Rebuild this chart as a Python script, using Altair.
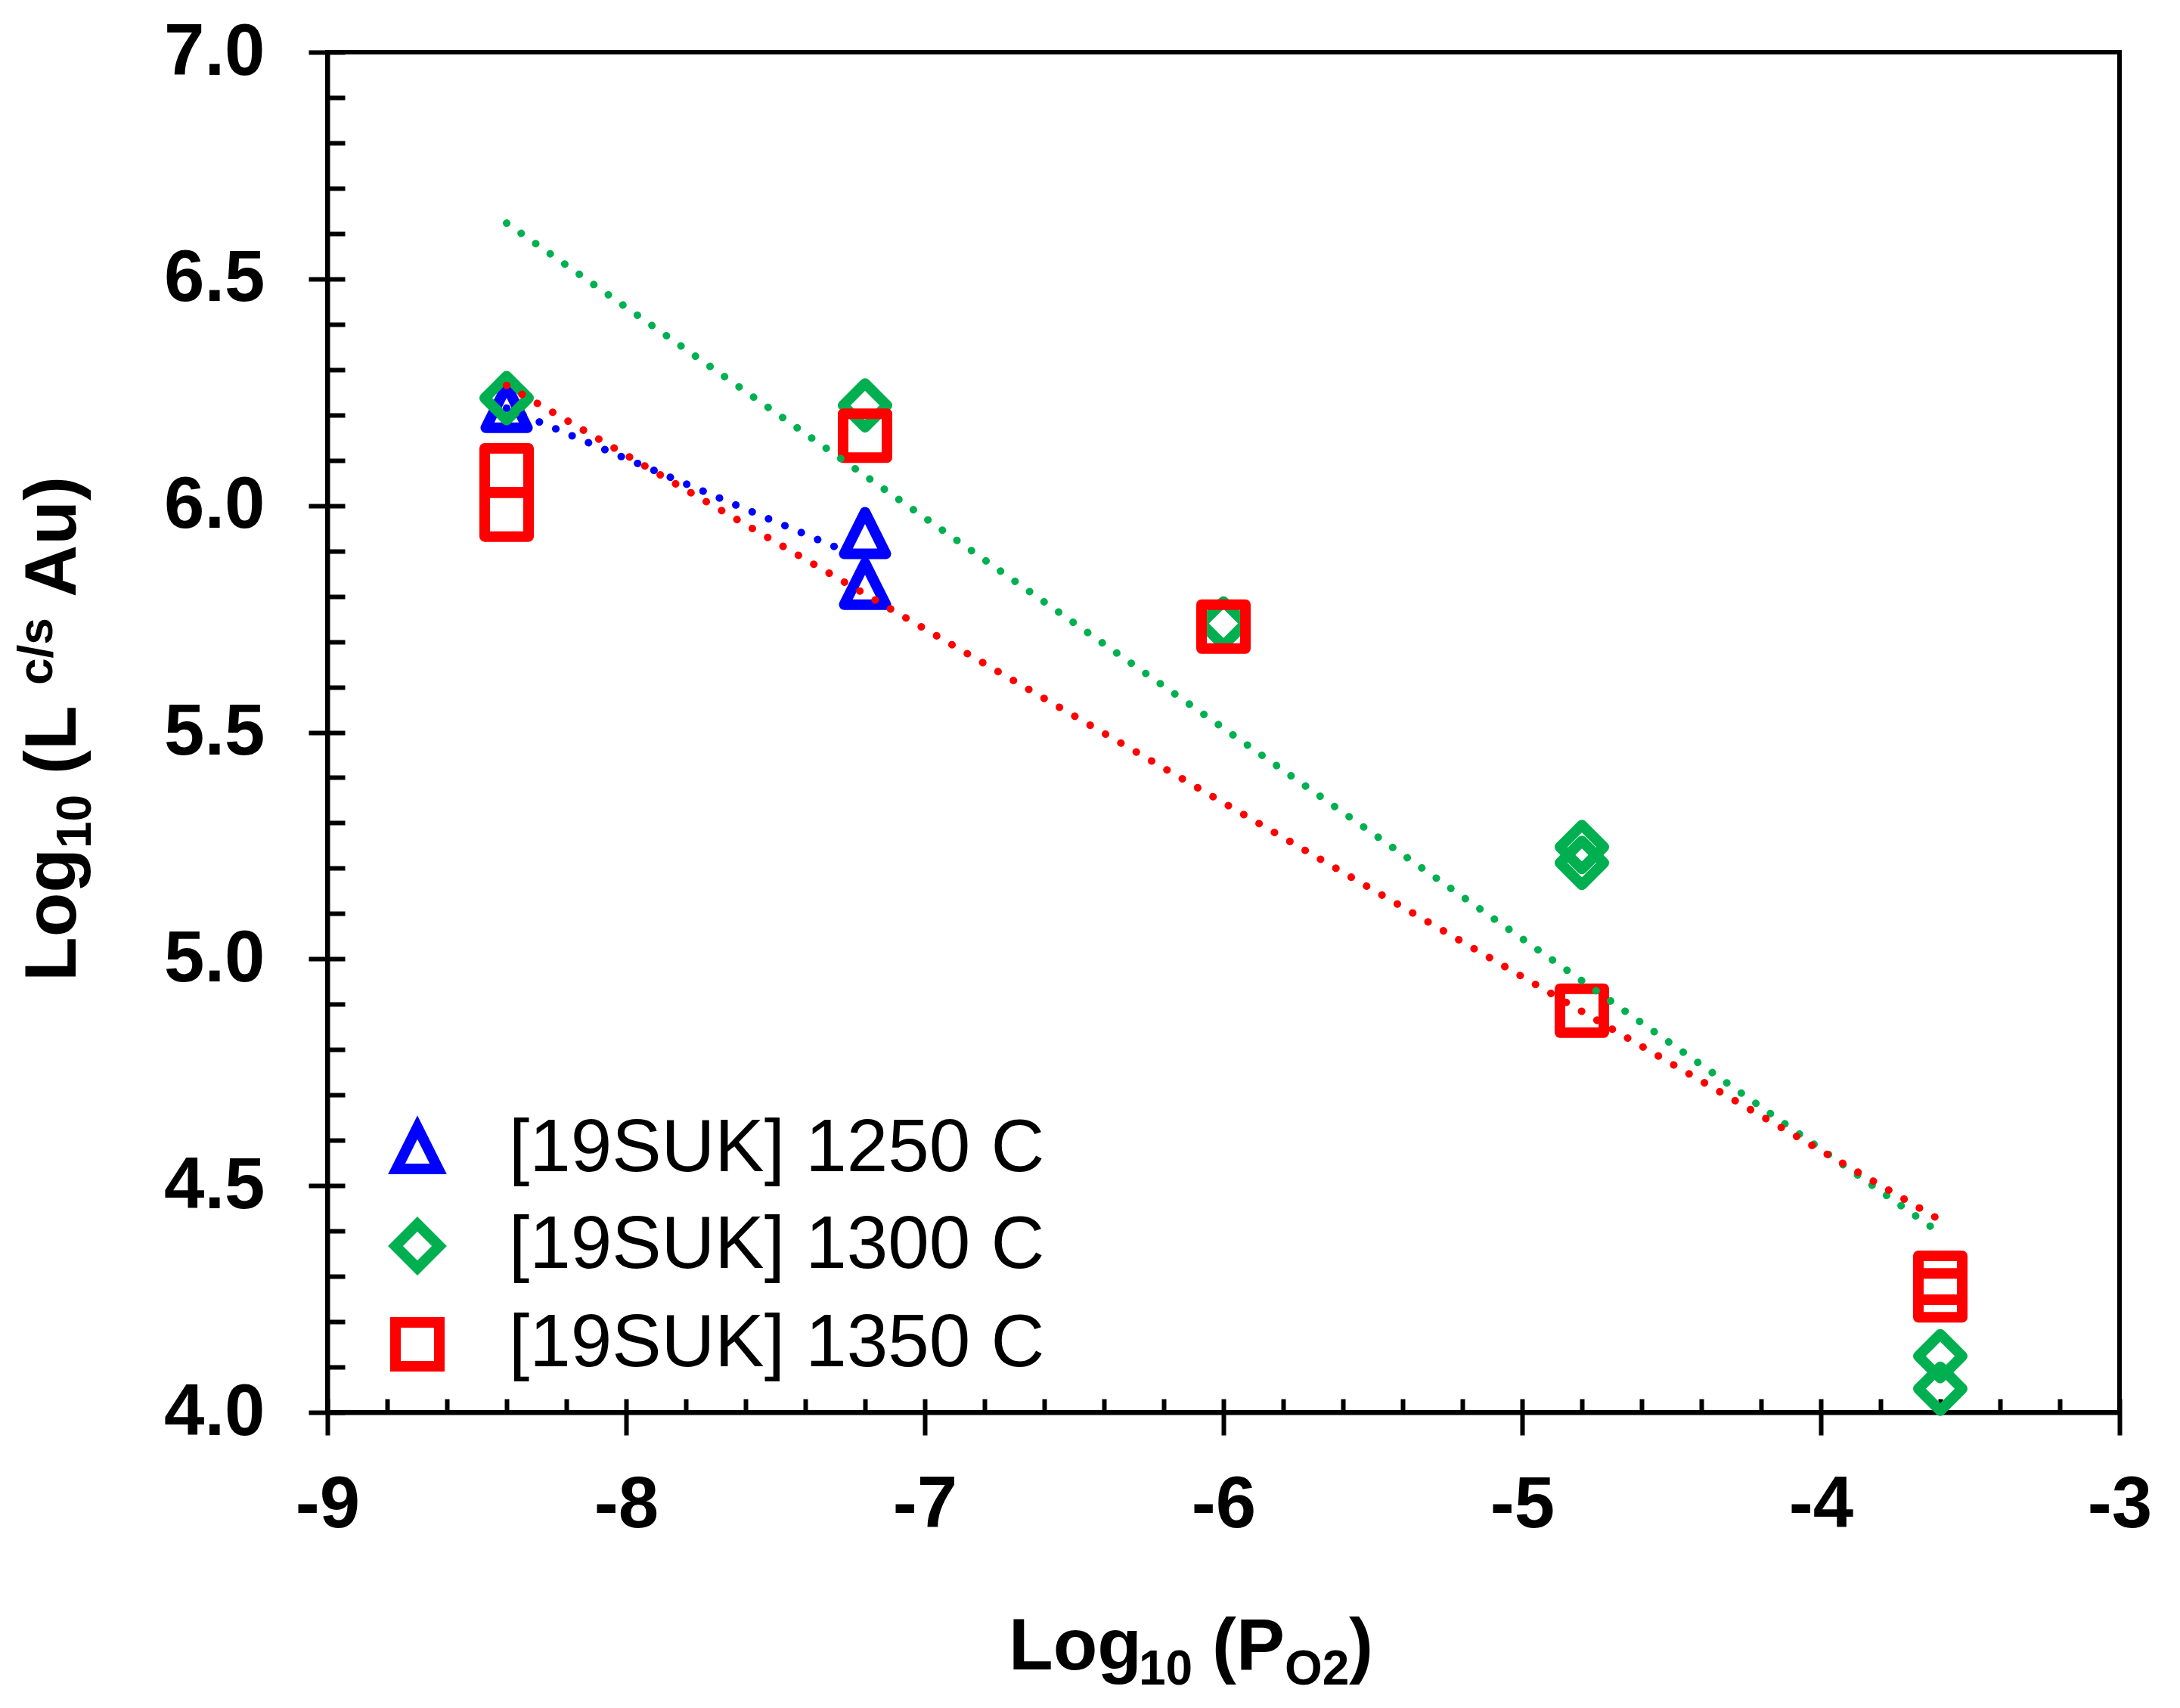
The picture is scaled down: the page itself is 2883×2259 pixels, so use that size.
import altair as alt
import pandas as pd

series_names = ["[19SUK] 1250 C", "[19SUK] 1300 C", "[19SUK] 1350 C"]
series_colors = ["#0000FF", "#00B050", "#FF0000"]
tri_path = "M0,-1L0.95,0.9L-0.95,0.9Z"
series_shapes = [tri_path, "diamond", "square"]

# measured points
x_1250 = [-8.4, -7.2, -7.2]
y_1250 = [6.215, 5.937, 5.825]
x_1300 = [-8.4, -7.2, -6.0, -4.8, -4.8, -3.6, -3.6]
y_1300 = [6.237, 6.221, 5.740, 5.247, 5.212, 4.124, 4.052]
x_1350 = [-8.4, -8.4, -7.2, -6.0, -4.8, -3.6, -3.6]
y_1350 = [6.078, 5.980, 6.154, 5.733, 4.886, 4.297, 4.258]

# dotted fit lines (end points)
fit_x_1250 = [-8.4, -7.2]
fit_y_1250 = [6.215, 5.881]
fit_x_1300 = [-8.4, -3.6]
fit_y_1300 = [6.623, 4.395]
fit_x_1350 = [-8.4, -3.6]
fit_y_1350 = [6.265, 4.424]

# axis ticks
x_major = [-9, -8, -7, -6, -5, -4, -3]
x_minor = [round(-9 + 0.2 * i, 1) for i in range(31)]
y_major = [4.0, 4.5, 5.0, 5.5, 6.0, 6.5, 7.0]
y_minor = [round(4 + 0.1 * i, 1) for i in range(31)]

x_title_parts = ["Log", "10", "(P", "O2", ")"]
y_title_parts = ["Log", "10", "(L", "c/s", "Au)"]

pts_rows = []
for name, xs, ys in zip(series_names, [x_1250, x_1300, x_1350], [y_1250, y_1300, y_1350]):
    for xv, yv in zip(xs, ys):
        pts_rows.append({"series": name, "x": xv, "y": yv})
pts_df = pd.DataFrame(pts_rows)

fit_rows = []
for name, xs, ys in zip(series_names, [fit_x_1250, fit_x_1300, fit_x_1350], [fit_y_1250, fit_y_1300, fit_y_1350]):
    for xv, yv in zip(xs, ys):
        fit_rows.append({"series": name, "x": xv, "y": yv})
fit_df = pd.DataFrame(fit_rows)

FONT = "Liberation Sans"
xscale = alt.Scale(domain=[-9, -3], nice=False, zero=False)
yscale = alt.Scale(domain=[4, 7], nice=False, zero=False)

x_axis_main = alt.Axis(orient="bottom", values=x_major, tickSize=30, tickWidth=6, tickColor="black",
                       domainWidth=6, domainColor="black", labelFont=FONT, labelFontWeight="bold",
                       labelFontSize=96, labelColor="black", labelPadding=45,
                       labelExpr="'' + datum.value", grid=False, title=None, labelFlush=False,
                       labelOverlap=False)
y_axis_main = alt.Axis(orient="left", values=y_major, tickSize=25, tickWidth=6, tickColor="black",
                       domainWidth=6, domainColor="black", labelFont=FONT, labelFontWeight="bold",
                       labelFontSize=96, labelColor="black", labelPadding=58, format=".1f",
                       grid=False, title=None, labelFlush=False, labelOverlap=False)
x_axis_minor = alt.Axis(orient="bottom", values=x_minor, offset=-18, tickSize=18, tickWidth=6,
                        tickColor="black", labels=False, domain=False, grid=False, title=None)
y_axis_minor = alt.Axis(orient="left", values=y_minor, offset=-23, tickSize=23, tickWidth=6,
                        tickColor="black", labels=False, domain=False, grid=False, title=None)

legend = alt.Legend(orient="none", legendX=70, legendY=1402, title=None, labelFont=FONT,
                    labelFontSize=98, labelColor="black", labelLimit=3000, symbolSize=3364,
                    symbolStrokeWidth=14, labelOffset=72, rowPadding=16, padding=0,
                    symbolOpacity=1)

color_scale = alt.Scale(domain=series_names, range=series_colors)
shape_scale = alt.Scale(domain=series_names, range=series_shapes)

minor_layer = alt.Chart(pts_df).mark_point(opacity=0).encode(
    x=alt.X("x:Q", scale=xscale, axis=x_axis_minor),
    y=alt.Y("y:Q", scale=yscale, axis=y_axis_minor),
)

points = alt.Chart(pts_df).mark_point(filled=False, size=3364, strokeWidth=14, opacity=1,
                                      strokeJoin="round").encode(
    x=alt.X("x:Q", scale=xscale, axis=x_axis_main),
    y=alt.Y("y:Q", scale=yscale, axis=y_axis_main),
    color=alt.Color("series:N", scale=color_scale, legend=legend),
    shape=alt.Shape("series:N", scale=shape_scale, legend=legend),
)

lines = alt.Chart(fit_df).mark_line(strokeWidth=10, strokeCap="round", strokeDash=[0.1, 23.4]).encode(
    x=alt.X("x:Q", scale=xscale, axis=None),
    y=alt.Y("y:Q", scale=yscale, axis=None),
    stroke=alt.Stroke("series:N", scale=color_scale, legend=None),
)

def title_piece(text, x, y, size, angle=0):
    return alt.Chart(pd.DataFrame({"t": [text]})).mark_text(
        align="left", baseline="alphabetic", font=FONT, fontWeight="bold",
        fontSize=size, color="black", angle=angle
    ).encode(text="t:N", x=alt.value(x), y=alt.value(y))

BIG, SMALL = 96, 64
xt = [
    title_piece(x_title_parts[0], 901, 2139, BIG),
    title_piece(x_title_parts[1], 1073, 2159, SMALL),
    title_piece(x_title_parts[2], 1170, 2139, BIG),
    title_piece(x_title_parts[3], 1266, 2159, SMALL),
    title_piece(x_title_parts[4], 1351, 2139, BIG),
]
YB = -333
yt = [
    title_piece(y_title_parts[0], YB, 1229, BIG, 270),
    title_piece(y_title_parts[1], YB + 20, 1053, SMALL, 270),
    title_piece(y_title_parts[2], YB, 955, BIG, 270),
    title_piece(y_title_parts[3], YB - 31, 837, SMALL, 270),
    title_piece(y_title_parts[4], YB, 721, BIG, 270),
]

chart = alt.layer(minor_layer, points, lines, *xt, *yt).resolve_axis(
    x="independent", y="independent"
).resolve_scale(x="shared", y="shared").properties(
    width=2370, height=1799,
    autosize=alt.AutoSizeParams(type="none"),
    padding={"left": 425, "top": 61, "right": 72, "bottom": 378},
    background="white",
).configure_view(stroke="black", strokeWidth=6)

chart.save("out.html", embed_options={"renderer": "svg", "actions": False})
